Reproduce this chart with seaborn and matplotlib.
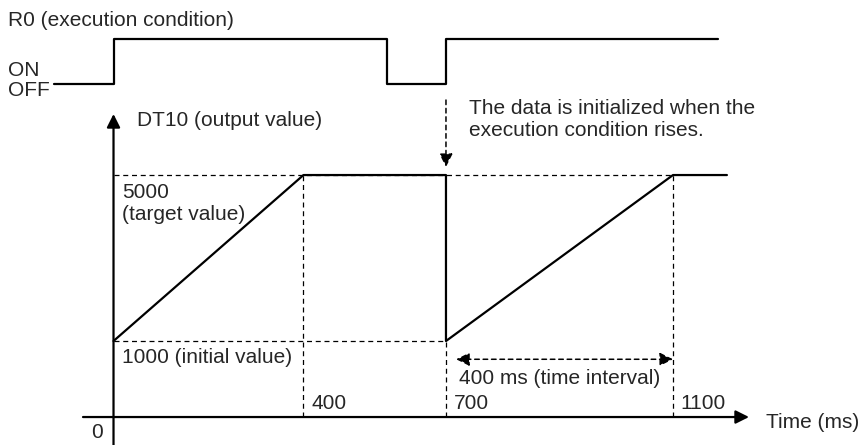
import numpy as np
import matplotlib
matplotlib.use("Agg")
import matplotlib.pyplot as plt
import seaborn as sns

# R0 execution condition (step signal, 0 = OFF, 1 = ON)
r0_time = [-125, 0, 575, 700, 1180]
r0_state = [0, 1, 0, 1, 1]

# DT10 output value
out_time = [0, 400, 700, 700, 1100, 1195]
out_value = [1000, 5000, 5000, 1000, 5000, 5000]

initial_value = 1000
target_value = 5000
time_ticks = [400, 700, 1100]
interval_start, interval_end = 700, 1100

W, H = 862, 445

sns.set_theme(style="white")
plt.rcParams["font.family"] = ["Liberation Sans", "DejaVu Sans"]
FS = 15


# schematic (non-linear) axes, like the original timing diagram
def x_fwd(t):
    t = np.asarray(t, dtype=float)
    return np.where(t <= 700, t, 700 + 1.195 * (t - 700))


def x_inv(u):
    u = np.asarray(u, dtype=float)
    return np.where(u <= 700, u, 700 + (u - 700) / 1.195)


def y_fwd(v):
    v = np.asarray(v, dtype=float)
    return np.where(v <= 1000, v, 1000 + 0.546 * (v - 1000))


def y_inv(u):
    u = np.asarray(u, dtype=float)
    return np.where(u <= 1000, u, 1000 + (u - 1000) / 0.546)


def px(x, y):
    return x / W, 1 - y / H


fig = plt.figure(figsize=(W / 100, H / 100), dpi=100)
ax = fig.add_axes([0, 0, 1, 1])
ax_top = fig.add_axes([0, 0, 1, 1], sharex=ax)
for a in (ax, ax_top):
    a.set_xscale("function", functions=(x_fwd, x_inv))
    a.set_axis_off()
    a.patch.set_alpha(0)
ax.set_yscale("function", functions=(y_fwd, y_inv))
ax.set_xlim(-239, 1433)
ax.set_ylim(-368, 9218)
ax_top.set_ylim(-8.02, 1.867)

lw = 1.6
dash = dict(color="black", lw=0.9, linestyles=(0, (4, 3)), zorder=1)

# R0 waveform
sns.lineplot(x=r0_time, y=r0_state, ax=ax_top, estimator=None, sort=False,
             drawstyle="steps-post", color="black", lw=lw)

# guide lines
ax.hlines(target_value, 0, interval_end, **dash)
ax.hlines(initial_value, 0, interval_start, **dash)
ax.vlines([400, 1100], 0, target_value, **dash)
ax.vlines(700, 0, initial_value, **dash)

# DT10 output
sns.lineplot(x=out_time, y=out_value, ax=ax, estimator=None, sort=False,
             color="black", lw=lw, zorder=3)

# axes with arrow heads
head = dict(arrowstyle="-|>,head_length=0.8,head_width=0.4", mutation_scale=10,
            color="black", lw=lw, shrinkA=0, shrinkB=0)
ax.annotate("", xy=(0, H - 114), xytext=(0, 0),
            xycoords=("data", "figure pixels"), textcoords=("data", "figure pixels"),
            arrowprops=head)
ax.annotate("", xy=(749, 0), xytext=(83, 0),
            xycoords=("figure pixels", "data"), textcoords=("figure pixels", "data"),
            arrowprops=head)

# "data is initialized" dashed arrow
ax.annotate("", xy=(700, H - 167), xytext=(700, H - 100),
            xycoords=("data", "figure pixels"), textcoords=("data", "figure pixels"),
            arrowprops=dict(arrowstyle="-|>,head_length=0.8,head_width=0.4",
                            mutation_scale=10, color="black", lw=1.1,
                            linestyle=(0, (3, 2.5)), shrinkA=0, shrinkB=0))

# time interval double arrow
ax.annotate("", xy=(interval_end, 760), xytext=(718, 760),
            arrowprops=dict(arrowstyle="<|-|>,head_length=0.8,head_width=0.4",
                            mutation_scale=10, color="black", lw=1.1,
                            linestyle=(0, (3, 2.5)), shrinkA=0, shrinkB=0))
ax.annotate(f"{interval_end - interval_start} ms (time interval)",
            xy=((interval_start + interval_end) / 2, 760), xytext=(0, -14),
            textcoords="offset points", ha="center", va="center", fontsize=FS)

# value labels
ax.annotate(f"{target_value}\n(target value)", xy=(0, target_value), xytext=(6, -20.5),
            textcoords="offset points", ha="left", va="center", fontsize=FS)
ax.annotate(f"{initial_value} (initial value)", xy=(0, initial_value), xytext=(6, -11.5),
            textcoords="offset points", ha="left", va="center", fontsize=FS)
for t in time_ticks:
    ax.annotate(str(t), xy=(t, 0), xytext=(5.5, 10), textcoords="offset points",
                ha="left", va="center", fontsize=FS)
ax.annotate("0", xy=(0, 0), xytext=(-12, -11), textcoords="offset points",
            ha="center", va="center", fontsize=FS)

# free texts
fig.text(*px(8, 20), "R0 (execution condition)", va="center", fontsize=FS)
fig.text(*px(8, 70), "ON", va="center", fontsize=FS)
fig.text(*px(8, 91), "OFF", va="center", fontsize=FS)
fig.text(*px(137, 120), "DT10 (output value)", va="center", fontsize=FS)
fig.text(*px(469, 120), "The data is initialized when the\nexecution condition rises.",
         va="center", fontsize=FS)
fig.text(*px(766, 423), "Time (ms)", va="center", fontsize=FS)

fig.savefig("out.png", dpi=100)
